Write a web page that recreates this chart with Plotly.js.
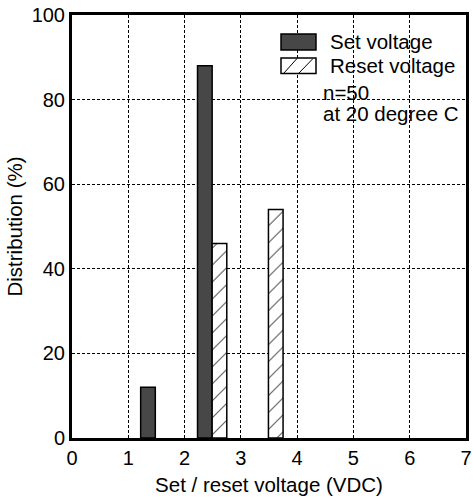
<!DOCTYPE html>
<html>
<head>
<meta charset="utf-8">
<script src="https://cdn.plot.ly/plotly-3.0.1.min.js"></script>
<style>html,body{margin:0;padding:0;background:#fff;}#chart{width:473px;height:500px;}</style>
</head>
<body>
<div id="chart"></div>
<script>
// Data
const setX = [1.35, 2.36];
const setY = [12, 88];
const resetX = [2.62, 3.62];
const resetY = [46, 54];
const xTicks = [0, 1, 2, 3, 4, 5, 6, 7];
const yTicks = [0, 20, 40, 60, 80, 100];
const seriesNames = ['Set voltage', 'Reset voltage'];
const noteLines = ['n=50', 'at 20 degree C'];

const FONT = 'Liberation Sans, Arial, Helvetica, sans-serif';
const L = 72, R = 466, T = 15, B = 438, W = 473, H = 500;
const px = x => (x - L) / (R - L);
const py = y => (B - y) / (B - T);

const traces = [
  {
    type: 'bar', name: seriesNames[0], x: setX, y: setY, width: 0.26,
    marker: {color: '#474747', line: {color: '#000', width: 1.5}},
    showlegend: false, hoverinfo: 'skip'
  },
  {
    type: 'bar', name: seriesNames[1], x: resetX, y: resetY, width: 0.26,
    marker: {color: '#ffffff', line: {color: '#000', width: 1.5},
      pattern: {shape: '/', fgcolor: '#000', bgcolor: '#fff', size: 12, solidity: 0.08}},
    showlegend: false, hoverinfo: 'skip'
  }
];

const shapes = [
  {type: 'rect', xref: 'paper', yref: 'paper', x0: px(281), x1: px(316), y0: py(34), y1: py(50),
   fillcolor: '#474747', line: {color: '#000', width: 1.5}},
  {type: 'rect', xref: 'paper', yref: 'paper', x0: px(281), x1: px(316), y0: py(58), y1: py(73.5),
   fillcolor: '#fff', line: {color: '#000', width: 1.5}},
  {type: 'line', xref: 'paper', yref: 'paper', x0: px(284), y0: py(73), x1: px(297), y1: py(58.5),
   line: {color: '#000', width: 1}},
  {type: 'line', xref: 'paper', yref: 'paper', x0: px(299), y0: py(73), x1: px(313), y1: py(58.5),
   line: {color: '#000', width: 1}}
];

const annFont = {family: FONT, size: 20.5, color: '#000'};
const annotations = [
  {xref: 'paper', yref: 'paper', x: px(328), y: py(41.5), text: seriesNames[0], showarrow: false, xanchor: 'left', yanchor: 'middle', font: annFont},
  {xref: 'paper', yref: 'paper', x: px(328), y: py(65.5), text: seriesNames[1], showarrow: false, xanchor: 'left', yanchor: 'middle', font: annFont},
  {xref: 'paper', yref: 'paper', x: px(321), y: py(92), text: noteLines[0], showarrow: false, xanchor: 'left', yanchor: 'middle', font: annFont},
  {xref: 'paper', yref: 'paper', x: px(321), y: py(113), text: noteLines[1], showarrow: false, xanchor: 'left', yanchor: 'middle', font: annFont}
];

const axisCommon = {
  showline: true, linecolor: '#000', linewidth: 3, mirror: true,
  showgrid: true, gridcolor: '#000', gridwidth: 1, griddash: '3px,2px',
  zeroline: false, ticks: '', tickfont: {family: FONT, size: 20, color: '#000'},
  fixedrange: true
};

const layout = {
  width: W, height: H,
  margin: {l: L, r: W - R, t: T, b: H - B},
  paper_bgcolor: '#fff', plot_bgcolor: '#fff',
  barmode: 'overlay',
  showlegend: false,
  xaxis: Object.assign({}, axisCommon, {
    range: [0, 7], tickvals: xTicks, ticktext: xTicks.map(String),
    title: {text: 'Set / reset voltage (VDC)', font: {family: FONT, size: 20.5, color: '#000'}, standoff: 10}
  }),
  yaxis: Object.assign({}, axisCommon, {
    range: [0, 100], tickvals: yTicks, ticktext: yTicks.map(String),
    title: {text: 'Distribution (%)', font: {family: FONT, size: 20.5, color: '#000'}, standoff: 4}
  }),
  shapes: shapes,
  annotations: annotations,
  font: {family: FONT, color: '#000'}
};

Plotly.newPlot('chart', traces, layout, {displayModeBar: false, staticPlot: true});
</script>
</body>
</html>
